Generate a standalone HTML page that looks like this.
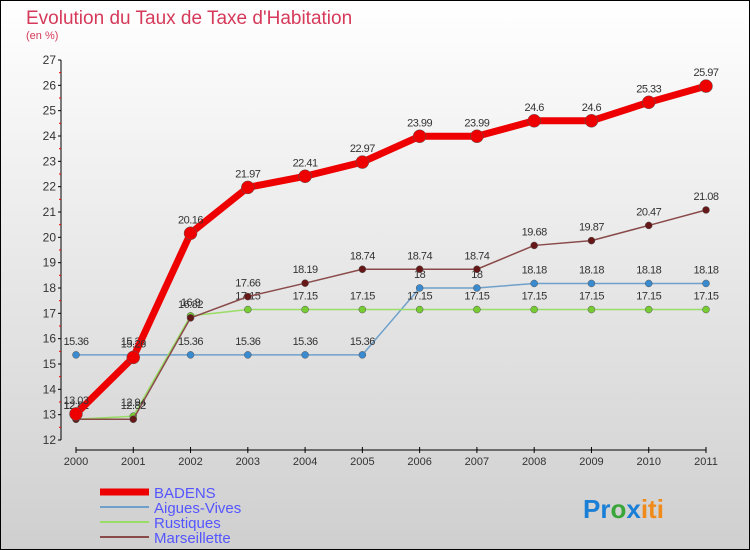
<!DOCTYPE html>
<html><head><meta charset="utf-8"><style>
body{margin:0;width:750px;height:550px;overflow:hidden;font-family:"Liberation Sans",sans-serif}
svg{display:block}
</style></head><body>
<svg id="c" width="750" height="550" xmlns="http://www.w3.org/2000/svg">
<defs><linearGradient id="bg" x1="0" y1="0" x2="0" y2="1"><stop offset="0" stop-color="#ffffff"/><stop offset="1" stop-color="#cfcfcf"/></linearGradient></defs>
<rect x="0.5" y="0.5" width="749" height="549" fill="url(#bg)" stroke="#000"/>
<text x="26" y="24" font-size="19" fill="#d63a5a">Evolution du Taux de Taxe d'Habitation</text>
<text x="26" y="39" font-size="11" fill="#d63a5a">(en %)</text>
<g id="axes"></g><g id="series"></g><g id="legend"></g>
<text x="583" y="518" font-size="26" font-weight="bold" fill="#1a7fd6">Pr<tspan fill="#3aa63a">o</tspan><tspan fill="#1a7fd6">x</tspan><tspan fill="#f08a1a">iti</tspan></text>
</svg>
<script>
const years=[2000,2001,2002,2003,2004,2005,2006,2007,2008,2009,2010,2011];
const badens=[13.03,15.26,20.16,21.97,22.41,22.97,23.99,23.99,24.6,24.6,25.33,25.97];
const aigues=[15.36,15.36,15.36,15.36,15.36,15.36,18,18,18.18,18.18,18.18,18.18];
const rustiques=[12.82,12.94,16.9,17.15,17.15,17.15,17.15,17.15,17.15,17.15,17.15,17.15];
const marseillette=[12.82,12.82,16.82,17.66,18.19,18.74,18.74,18.74,19.68,19.87,20.47,21.08];
const yTicks=[12,13,14,15,16,17,18,19,20,21,22,23,24,25,26,27];
const NS='http://www.w3.org/2000/svg';
const X=i=>76+i*(630/11), Y=v=>440-(v-12)*(380/15);
function mk(t,a,p){const e=document.createElementNS(NS,t);for(const k in a)e.setAttribute(k,a[k]);p.appendChild(e);return e;}
const ax=document.getElementById('axes');
let l=mk('line',{x1:61,y1:60,x2:61,y2:440,stroke:'#000'},ax);


l=mk('line',{x1:76,y1:450,x2:706,y2:450,stroke:'#000'},ax);


yTicks.forEach(v=>{
 mk('line',{x1:58,y1:Y(v),x2:61,y2:Y(v),stroke:'#000'},ax);
 if(v<27)mk('line',{x1:59,y1:Y(v+0.5),x2:61,y2:Y(v+0.5),stroke:'#e00'},ax);
 const t=mk('text',{x:56,y:Y(v)+4,'text-anchor':'end','font-size':12,fill:'#333'},ax);t.textContent=v;
 
 
});
years.forEach((y,i)=>{
 mk('line',{x1:X(i),y1:447,x2:X(i),y2:453,stroke:'#000'},ax);
 const t=mk('text',{x:X(i),y:465,'text-anchor':'middle','font-size':11,fill:'#333'},ax);t.textContent=y;
 
 
});
const S=document.getElementById('series');
function draw(d,col,w,r,dot,name){
 const g=mk('g',{},S);
 
 
 mk('polyline',{points:d.map((v,i)=>X(i)+','+Y(v)).join(' '),fill:'none',stroke:col,'stroke-width':w,'stroke-linejoin':'round'},g);
 d.forEach((v,i)=>{
  const c=mk('circle',{cx:X(i),cy:Y(v),r:r,fill:dot,stroke:'#555','stroke-width':0.5},g);
  
  
  const t=mk('text',{x:X(i),y:Y(v)-10,'text-anchor':'middle','font-size':11,fill:'#333','letter-spacing':'-0.5'},g);t.textContent=v;
  
  
 });
}
draw(aigues,'#6fa0cc',1.5,3.5,'#3a8ad0','aigues-vives');
draw(rustiques,'#99dd66',1.5,3.5,'#77cc33','rustiques');
draw(marseillette,'#8a4a4a',1.5,3.5,'#661818','marseillette');
draw(badens,'#ee0000',7,6.5,'#ee0000','badens');
const L=document.getElementById('legend');
const items=[['BADENS','#ee0000',7],['Aigues-Vives','#6fa0cc',2],['Rustiques','#99dd66',2],['Marseillette','#8a4a4a',2]];
items.forEach((it,i)=>{
 const y=492+i*15;
 mk('line',{x1:100,y1:y,x2:149,y2:y,stroke:it[1],'stroke-width':it[2]},L);
 const t=mk('text',{x:154,y:y+6,'font-size':15,fill:'#5555ff'},L);t.textContent=it[0];
 
 
});
</script>
</body></html>
